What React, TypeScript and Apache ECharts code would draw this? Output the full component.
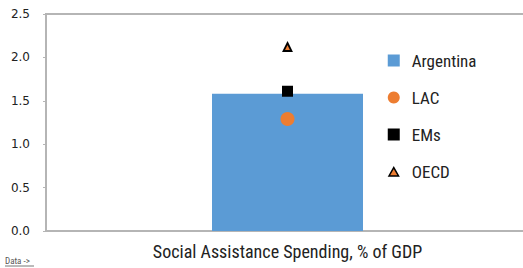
import React, { useEffect, useRef } from "react";
import * as echarts from "echarts";

const categories = ["Social Assistance Spending, % of GDP"];
const argentina = [1.58];
const lac = [1.29];
const ems = [1.61];
const oecd = [2.12];
const yTicks = { min: 0, max: 2.5, interval: 0.5 };

const NARROW = '"Liberation Sans Narrow", "Arial Narrow", "Roboto Condensed", "Liberation Sans", sans-serif';
const TRI_ICON = "path://M0,0 M20,20 M2,17.5 L10,3.5 L18,17.5 Z";

export default function App() {
  const ref = useRef<HTMLDivElement>(null);
  useEffect(() => {
    if (!ref.current) return;
    const chart = echarts.init(ref.current, undefined, { renderer: "svg" });
    chart.setOption({
      animation: false,
      grid: {
        left: 46,
        right: 0,
        top: 14,
        bottom: 37,
        show: true,
        borderColor: "#b5b5b5",
        borderWidth: 2,
      },
      legend: {
        orient: "vertical",
        left: 387,
        top: 52,
        padding: 0,
        itemGap: 20,
        itemWidth: 12,
        itemHeight: 12,
        textStyle: { fontFamily: NARROW, fontSize: 17, color: "#222", padding: [0, 0, 0, 7] },
        data: [
          { name: "Argentina", icon: "rect" },
          { name: "LAC", icon: "circle" },
          { name: "EMs", icon: "rect" },
          { name: "OECD", icon: TRI_ICON, itemStyle: { borderWidth: 1.5 } },
        ],
      },
      xAxis: {
        type: "category",
        data: categories,
        axisLine: { show: true, lineStyle: { color: "#b5b5b5", width: 2 } },
        axisTick: { show: false },
        axisLabel: {
          fontFamily: NARROW,
          fontSize: 18,
          color: "#222",
          margin: 11,
        },
      },
      yAxis: {
        type: "value",
        min: yTicks.min,
        max: yTicks.max,
        interval: yTicks.interval,
        splitLine: { show: false },
        axisLine: { show: true, lineStyle: { color: "#b5b5b5", width: 2 } },
        axisTick: { show: true, length: 3, lineStyle: { color: "#b5b5b5" } },
        axisLabel: {
          formatter: (v: number) => v.toFixed(1),
          fontFamily: '"DejaVu Sans", sans-serif',
          fontSize: 12,
          color: "#222",
          margin: 16,
        },
      },
      series: [
        {
          name: "Argentina",
          type: "bar",
          data: argentina,
          barWidth: 151,
          itemStyle: { color: "#5b9bd5" },
        },
        {
          name: "LAC",
          type: "scatter",
          data: lac,
          symbol: "circle",
          symbolSize: 14,
          itemStyle: { color: "#ed7d31", opacity: 1 },
        },
        {
          name: "EMs",
          type: "scatter",
          data: ems,
          symbol: "rect",
          symbolSize: 11,
          itemStyle: { color: "#000000", opacity: 1 },
        },
        {
          name: "OECD",
          type: "scatter",
          data: oecd,
          symbol: "triangle",
          symbolSize: 8,
          itemStyle: { color: "#ed7d31", borderColor: "#000000", borderWidth: 1.8, opacity: 1 },
        },
      ],
      graphic: [
        {
          type: "text",
          left: 5,
          top: 256,
          style: {
            text: "Data ->",
            fontFamily: NARROW,
            fontSize: 9,
            fill: "#555",
          },
        },
        {
          type: "line",
          shape: { x1: 5, y1: 266, x2: 34, y2: 266 },
          style: { stroke: "#777", lineWidth: 1 },
        },
      ],
    });
    return () => chart.dispose();
  }, []);
  return (
    <div style={{ position: "absolute", left: 0, top: 0, width: 523, height: 268, overflow: "hidden" }}>
      <div ref={ref} style={{ width: 529, height: 268 }} />
    </div>
  );
}
